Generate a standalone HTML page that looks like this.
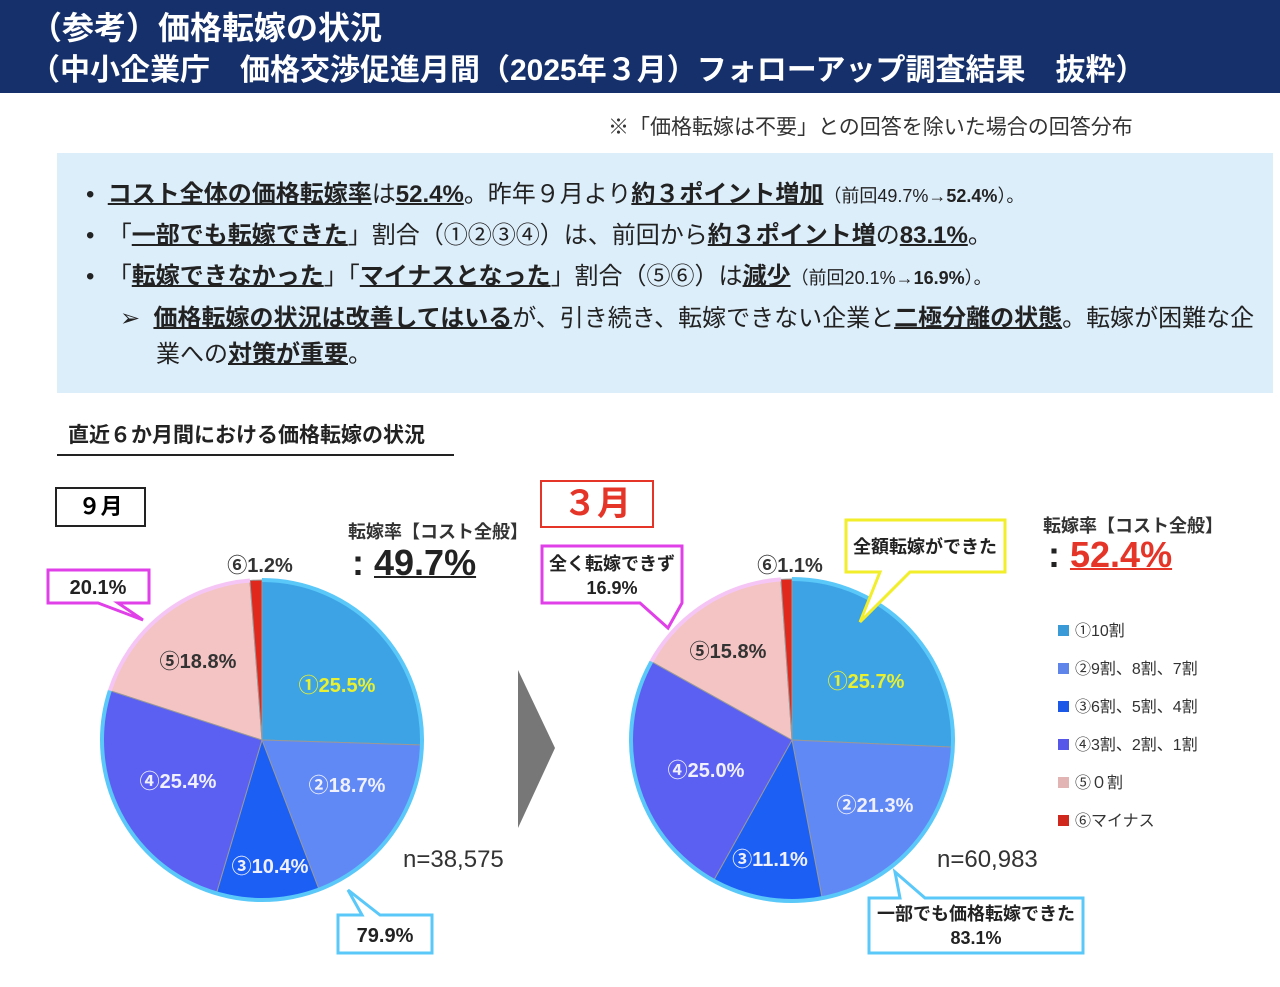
<!DOCTYPE html>
<html><head><meta charset="utf-8"><style>
body{margin:0;width:1280px;height:987px;overflow:hidden;background:#fff;font-family:"Liberation Sans","Noto Sans CJK JP",sans-serif;position:relative}
.a{position:absolute;white-space:nowrap}
#hdr{position:absolute;left:0;top:0;width:1280px;height:93px;background:#16306b;color:#fff;font-weight:bold}
#box{position:absolute;left:57px;top:153px;width:1216px;height:240px;background:#ddeefb}
.l{position:absolute;font-size:24px;color:#222;white-space:nowrap}
u{text-decoration-thickness:2px}
</style></head><body>
<div id="hdr">
<div class="a" style="left:30px;top:3px;font-size:32px">（参考）価格転嫁の状況</div>
<div class="a" style="left:30px;top:45px;font-size:30px">（中小企業庁　価格交渉促進月間（2025年３月）フォローアップ調査結果　抜粋）</div>
</div>
<div class="a" style="left:608px;top:111px;font-size:21px;color:#333">※「価格転嫁は不要」との回答を除いた場合の回答分布</div>
<div id="box"></div>
<div class="l" style="left:86px;top:174px">•&nbsp;&nbsp;<b><u>コスト全体の価格転嫁率</u></b>は<b><u>52.4%</u></b>。昨年９月より<b><u>約３ポイント増加</u></b><span style="font-size:18px">（前回49.7%→<b>52.4%</b>）。</span></div>
<div class="l" style="left:86px;top:215px">•&nbsp;&nbsp;「<b><u>一部でも転嫁できた</u></b>」割合（①②③④）は、前回から<b><u>約３ポイント増</u></b>の<b><u>83.1%</u></b>。</div>
<div class="l" style="left:86px;top:256px">•&nbsp;&nbsp;「<b><u>転嫁できなかった</u></b>」「<b><u>マイナスとなった</u></b>」割合（⑤⑥）は<b><u>減少</u></b><span style="font-size:18px">（前回20.1%→<b>16.9%</b>）。</span></div>
<div class="l" style="left:120px;top:298px">➢&nbsp;&nbsp;<b><u>価格転嫁の状況は改善してはいる</u></b>が、引き続き、転嫁できない企業と<b><u>二極分離の状態</u></b>。転嫁が困難な企</div>
<div class="l" style="left:156px;top:334px">業への<b><u>対策が重要</u></b>。</div>
<div class="a" style="left:68px;top:419px;font-size:21px;font-weight:bold;color:#222">直近６か月間における価格転嫁の状況</div>
<div class="a" style="left:57px;top:454px;width:397px;height:2px;background:#222"></div>
<svg id="s" class="a" style="left:0;top:0" width="1280" height="987"></svg>
<div class="a" style="left:55px;top:487px;width:87px;height:36px;border:2px solid #222;font-size:22px;font-weight:bold;text-align:center;line-height:36px">９月</div>
<div class="a" style="left:540px;top:480px;width:110px;height:44px;border:2px solid #e53528;font-size:34px;font-weight:bold;color:#e53528;text-align:center;line-height:44px">３月</div>
<div class="a" style="left:348px;top:518px;font-size:18px;font-weight:bold;color:#333">転嫁率【コスト全般】</div>
<div class="a" style="left:352px;top:542px;font-size:36px;font-weight:bold;color:#222">: <u>49.7%</u></div>
<div class="a" style="left:1043px;top:512px;font-size:18px;font-weight:bold;color:#333">転嫁率【コスト全般】</div>
<div class="a" style="left:1048px;top:534px;font-size:36px;font-weight:bold;color:#e53528"><span style="color:#222">: </span><u>52.4%</u></div>
<div class="a" style="left:403px;top:846px;font-size:24px;color:#333">n=38,575</div>
<div class="a" style="left:937px;top:846px;font-size:24px;color:#333">n=60,983</div>
<div class="a" style="left:1058px;top:613px;font-size:16px;color:#333;line-height:38px">
<div><span style="display:inline-block;width:11px;height:11px;background:#3a9ad8;margin-right:6px"></span>①10割</div>
<div><span style="display:inline-block;width:11px;height:11px;background:#6085ea;margin-right:6px"></span>②9割、8割、7割</div>
<div><span style="display:inline-block;width:11px;height:11px;background:#1c58e8;margin-right:6px"></span>③6割、5割、4割</div>
<div><span style="display:inline-block;width:11px;height:11px;background:#5656e8;margin-right:6px"></span>④3割、2割、1割</div>
<div><span style="display:inline-block;width:11px;height:11px;background:#e2b4b4;margin-right:6px"></span>⑤０割</div>
<div><span style="display:inline-block;width:11px;height:11px;background:#d0281c;margin-right:6px"></span>⑥マイナス</div>
</div>
<script>
const s=document.getElementById('s');let h='';
const cols=['#3da3e5','#6089f5','#1c5ff5','#5b60f3','#f4c4c4','#e0281c'];
function pie(cx,cy,r,v){let a=0;let out='';
 v.forEach((p,i)=>{let a1=a+p/100*2*Math.PI;
  let x0=cx+r*Math.sin(a),y0=cy-r*Math.cos(a),x1=cx+r*Math.sin(a1),y1=cy-r*Math.cos(a1);
  out+=`<path d="M${cx},${cy}L${x0},${y0}A${r},${r} 0 ${a1-a>Math.PI?1:0} 1 ${x1},${y1}Z" fill="${cols[i]}" stroke="#999" stroke-width="1"/>`;a=a1;});
 let e=(100-v[4]-v[5])/100*2*Math.PI;
 out+=`<path d="M${cx},${cy-r}A${r},${r} 0 1 1 ${cx+r*Math.sin(e)},${cy-r*Math.cos(e)}" fill="none" stroke="#5ac8f8" stroke-width="4"/>`;
 let e2=e+v[4]/100*2*Math.PI;
 out+=`<path d="M${cx+r*Math.sin(e)},${cy-r*Math.cos(e)}A${r},${r} 0 0 1 ${cx+r*Math.sin(e2)},${cy-r*Math.cos(e2)}" fill="none" stroke="#f5c6f5" stroke-width="4"/>`;
 return out;}
h+=pie(262,740,160,[25.5,18.7,10.4,25.4,18.8,1.2]);
h+=pie(792,740,161,[25.7,21.3,11.1,25.0,15.8,1.1]);
h+='<polygon points="518,670 555,748 518,828" fill="#777"/>';
function co(pts,c){return `<polygon points="${pts}" fill="#fff" stroke="${c}" stroke-width="3"/>`;}
h+=co('48,570 149,570 149,603 118,603 143,620 98,603 48,603','#e040e8');
h+=co('338,915 362,915 348,890 380,915 432,915 432,953 338,953','#5ac8f8');
h+=co('542,546 682,546 682,603 668,628 640,603 542,603','#e040e8');
h+=co('846,520 1005,520 1005,572 910,572 860,622 880,572 846,572','#f2ee2a');
h+=co('869,898 900,898 895,872 925,898 1083,898 1083,953 869,953','#5ac8f8');
function t(x,y,txt,c,sz,anc){return `<text x="${x}" y="${y}" fill="${c}" font-size="${sz||20}" font-weight="bold" text-anchor="${anc||'middle'}" font-family="Liberation Sans,Noto Sans CJK JP,sans-serif">${txt}</text>`;}
h+=t(98,594,'20.1%','#222');h+=t(385,942,'79.9%','#222');
h+=t(612,570,'全く転嫁できず','#222',18)+t(612,594,'16.9%','#222',18);
h+=t(925,553,'全額転嫁ができた','#222',18);
h+=t(976,920,'一部でも価格転嫁できた','#222',18)+t(976,944,'83.1%','#222',18);
h+=t(260,572,'⑥1.2%','#333')+t(790,572,'⑥1.1%','#333');
h+=t(337,692,'①25.5%','#e8f030')+t(347,792,'②18.7%','#f0f0ff')+t(270,873,'③10.4%','#f0f0ff')+t(178,788,'④25.4%','#f0f0ff')+t(198,668,'⑤18.8%','#333');
h+=t(866,688,'①25.7%','#e8f030')+t(875,812,'②21.3%','#f0f0ff')+t(770,866,'③11.1%','#f0f0ff')+t(706,777,'④25.0%','#f0f0ff')+t(728,658,'⑤15.8%','#333');
s.innerHTML=h;
</script>
</body></html>
